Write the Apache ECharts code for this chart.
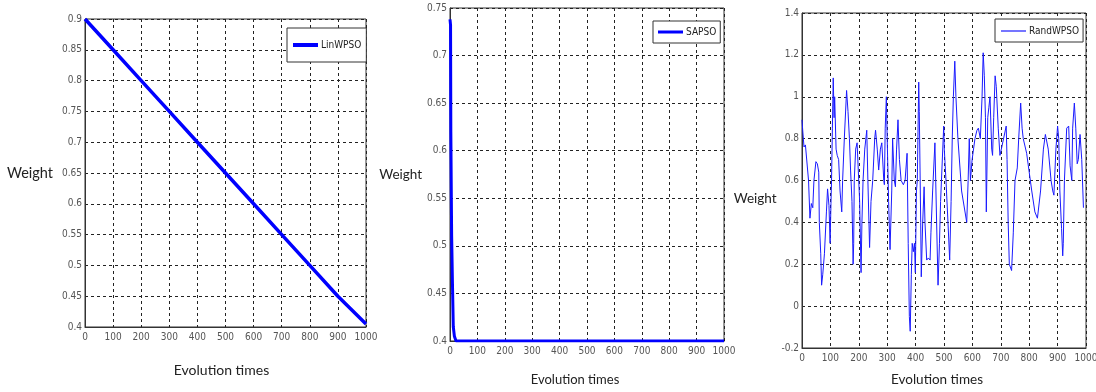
<!DOCTYPE html>
<html>
<head>
<meta charset="utf-8">
<script src="https://cdn.jsdelivr.net/npm/echarts@6/dist/echarts.min.js"></script>
<style>
  html, body { margin: 0; padding: 0; background: #fff; }
  #weightChart { width: 1096px; height: 392px; }
</style>
</head>
<body>
<div id="weightChart"></div>
<script>
// x ticks shared by the three panels
const xTicks = [0, 100, 200, 300, 400, 500, 600, 700, 800, 900, 1000]

// LinWPSO: linear decreasing weight
const linX = [0, 100, 200, 300, 400, 500, 600, 700, 800, 900, 1000]
const linY = [0.9, 0.85, 0.8, 0.75, 0.7, 0.65, 0.6, 0.55, 0.5, 0.45, 0.405]

// SAPSO: drops almost at once, then flat at 0.4
const saX = [0, 2, 3, 6, 9, 12, 16, 22, 1000]
const saY = [0.738, 0.732, 0.62, 0.51, 0.46, 0.415, 0.405, 0.4, 0.4]

// RandWPSO: random weight
const randX = [0, 2, 7, 12, 19, 23, 28, 33, 38, 42, 49, 54, 59, 61, 66, 69, 73, 79, 86, 90, 95, 99,
  102, 104, 107, 110, 113, 115, 120, 124, 129, 134, 140, 143, 149, 157, 162, 167, 171, 176, 180, 182,
  184, 189, 194, 200, 203, 208, 211, 215, 221, 228, 232, 238, 243, 249, 256, 259, 265, 270, 276, 281,
  288, 290, 293, 297, 300, 305, 310, 316, 319, 325, 329, 333, 338, 343, 349, 357, 363, 370, 374, 378,
  381, 385, 388, 392, 396, 399, 403, 406, 411, 413, 418, 420, 425, 430, 433, 439, 445, 451, 454, 460,
  468, 474, 479, 484, 488, 499, 501, 507, 514, 520, 525, 529, 533, 538, 542, 549, 562, 580, 585, 589,
  593, 599, 609, 616, 621, 628, 634, 638, 642, 646, 649, 654, 658, 662, 668, 671, 675, 680, 684, 691,
  697, 702, 709, 719, 722, 726, 730, 738, 744, 750, 758, 763, 770, 775, 779, 791, 799, 809, 820, 829,
  840, 850, 857, 867, 877, 883, 887, 894, 900, 904, 908, 914, 918, 920, 924, 932, 939, 944, 950, 953,
  959, 964, 969, 973, 979, 985, 991]
const randY = [0.89, 0.85, 0.76, 0.77, 0.77, 0.6, 0.42, 0.49, 0.47, 0.6, 0.69, 0.68, 0.64, 0.4, 0.25, 0.1, 0.15, 0.25, 0.45, 0.56, 0.48, 0.3,
  0.49, 0.6, 0.85, 1.09, 0.9, 1.0, 0.75, 0.72, 0.7, 0.55, 0.45, 0.6, 0.8, 1.03, 0.93, 0.8, 0.65, 0.5, 0.2, 0.3,
  0.6, 0.75, 0.78, 0.78, 0.5, 0.16, 0.4, 0.6, 0.75, 0.84, 0.6, 0.28, 0.5, 0.6, 0.8, 0.84, 0.75, 0.65, 0.75, 0.78,
  0.6, 0.58, 0.85, 1.0, 0.8, 0.5, 0.27, 0.55, 0.8, 0.6, 0.57, 0.75, 0.89, 0.7, 0.6, 0.58, 0.6, 0.73, 0.3, -0.05,
  -0.12, 0.15, 0.3, 0.26, 0.3, 0.16, 0.55, 0.6, 1.07, 0.93, 0.4, 0.14, 0.4, 0.57, 0.4, 0.22, 0.23, 0.22, 0.35, 0.55,
  0.78, 0.4, 0.1, 0.3, 0.5, 0.86, 0.75, 0.6, 0.4, 0.22, 0.5, 0.8, 1.0, 1.17, 1.0, 0.8, 0.55, 0.4, 0.6, 0.8,
  0.6, 0.7, 0.8, 0.84, 0.85, 0.8, 1.0, 1.21, 1.1, 0.9, 0.45, 0.9, 0.95, 1.0, 0.75, 0.72, 0.9, 1.1, 1.05, 0.85,
  0.72, 0.75, 0.75, 0.86, 0.7, 0.4, 0.2, 0.17, 0.35, 0.6, 0.66, 0.8, 0.97, 0.85, 0.8, 0.73, 0.65, 0.55, 0.45, 0.42,
  0.55, 0.75, 0.82, 0.75, 0.6, 0.55, 0.53, 0.75, 0.86, 0.8, 0.55, 0.37, 0.24, 0.3, 0.6, 0.85, 0.86, 0.67, 0.6, 0.85,
  0.97, 0.85, 0.68, 0.7, 0.82, 0.7, 0.47]

const zip = (xs, ys) => xs.map((x, i) => [x, ys[i]])

const narrowFont = '"DejaVu Sans Condensed", "Liberation Sans Narrow", "Liberation Sans", sans-serif'
const tickFont = {
  fontFamily: narrowFont,
  fontSize: 10,
  color: '#555'
}
const titleFont = {
  fontFamily: 'Lato, "Open Sans", sans-serif',
  color: '#222'
}
const dashed = { show: true, lineStyle: { color: '#222', type: [3, 3], width: 1 } }

function makeX(idx, gap, padRight, size) {
  return {
    gridIndex: idx,
    type: 'value',
    min: xTicks[0],
    max: xTicks[xTicks.length - 1],
    interval: 100,
    name: 'Evolution times',
    nameLocation: 'middle',
    nameGap: gap,
    nameTextStyle: Object.assign({ fontSize: size, padding: [0, padRight, 0, 0] }, titleFont),
    axisLine: { show: true, onZero: false, lineStyle: { color: '#333' } },
    axisTick: { show: false },
    axisLabel: Object.assign({ margin: 5, formatter: v => String(v) }, tickFont),
    splitLine: dashed
  }
}

function makeY(idx, min, max, interval, name, gap, size, lineH) {
  return {
    gridIndex: idx,
    type: 'value',
    min: min,
    max: max,
    interval: interval,
    name: name,
    nameLocation: 'middle',
    nameRotate: 0,
    nameGap: gap,
    nameTextStyle: Object.assign({ fontSize: size, lineHeight: lineH }, titleFont),
    axisLine: { show: true, onZero: false, lineStyle: { color: '#333' } },
    axisTick: { show: false },
    axisLabel: Object.assign({ margin: 3 }, tickFont),
    splitLine: dashed
  }
}

function makeLegend(name, left, top, padding, lineH) {
  return {
    data: [name],
    left: left,
    top: top,
    padding: padding,
    icon: 'rect',
    itemWidth: 25,
    itemHeight: lineH,
    itemGap: 0,
    borderColor: '#333',
    borderWidth: 1,
    backgroundColor: '#fff',
    textStyle: {
      fontFamily: narrowFont,
      fontSize: 10,
      color: '#222',
      padding: [0, 0, 0, -2]
    }
  }
}

const gridBase = { show: true, borderColor: '#333', borderWidth: 1, containLabel: false, outerBoundsMode: 'none' }

const weightChart = echarts.init(document.getElementById('weightChart'))
const option = {
  animation: false,
  backgroundColor: '#fff',
  grid: [
    Object.assign({ left: 85, top: 19, width: 281, height: 308 }, gridBase),
    Object.assign({ left: 450, top: 8, width: 274, height: 333 }, gridBase),
    Object.assign({ left: 802, top: 13, width: 284, height: 335 }, gridBase)
  ],
  xAxis: [makeX(0, 36, 8, 14), makeX(1, 32, 24, 13), makeX(2, 25, 14, 13.5)],
  yAxis: [
    makeY(0, 0.4, 0.9, 0.05, 'Weight', 32, 14.5, 18),
    makeY(1, 0.4, 0.75, 0.05, 'Weight', 26, 13.5, 18),
    makeY(2, -0.2, 1.4, 0.2, '\nWeight', 18, 13.5, 36)
  ],
  legend: [
    makeLegend('LinWPSO', 287, 28, [12, 5, 12, 6], 4),
    makeLegend('SAPSO', 653, 21, [6, 4, 6, 5], 3),
    makeLegend('RandWPSO', 995, 19, [7, 4, 6, 6], 1.2)
  ],
  series: [
    {
      name: 'LinWPSO',
      type: 'line',
      xAxisIndex: 0,
      yAxisIndex: 0,
      data: zip(linX, linY),
      symbol: 'none',
      color: '#0000ff',
      lineStyle: { width: 3.5, color: '#0000ff' }
    },
    {
      name: 'SAPSO',
      type: 'line',
      xAxisIndex: 1,
      yAxisIndex: 1,
      data: zip(saX, saY),
      symbol: 'none',
      color: '#0000ff',
      lineStyle: { width: 3, color: '#0000ff' }
    },
    {
      name: 'RandWPSO',
      type: 'line',
      xAxisIndex: 2,
      yAxisIndex: 2,
      data: zip(randX, randY),
      symbol: 'none',
      color: '#1a1aff',
      lineStyle: { width: 1, color: '#1a1aff' }
    }
  ]
}
weightChart.setOption(option)
</script>
</body>
</html>
